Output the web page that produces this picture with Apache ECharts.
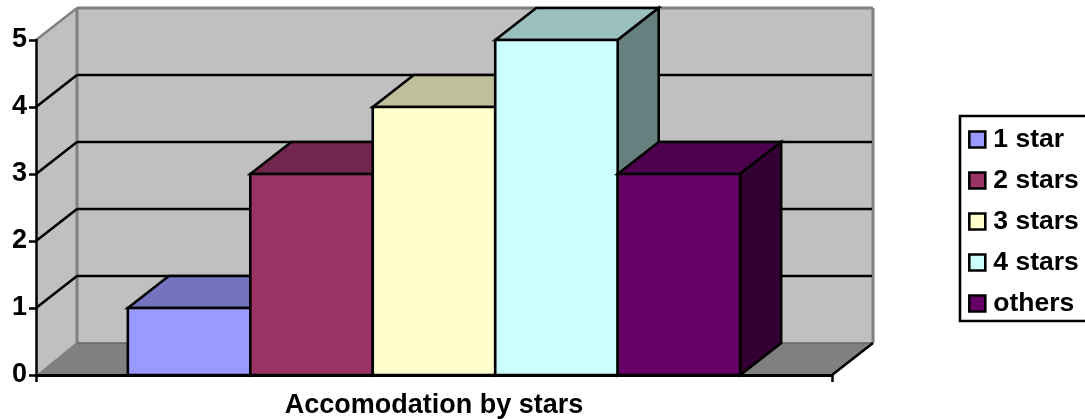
<!DOCTYPE html>
<html>
<head>
<meta charset="utf-8">
<style>html,body{margin:0;padding:0;background:#fff;overflow:hidden}#chart{width:1085px;height:419px}</style>
<script src="https://cdn.jsdelivr.net/npm/echarts@6/dist/echarts.min.js"></script>
</head>
<body>
<div id="chart"></div>
<script>
// Hotel counts per star rating, drawn as a single cluster of pseudo-3D columns.
const categories = ['Accomodation by stars'];
const seriesNames = ['1 star', '2 stars', '3 stars', '4 stars', 'others'];
const seriesValues = [1, 3, 4, 5, 3];
const yTicks = [0, 1, 2, 3, 4, 5];

const frontColors = ['#9999ff', '#993366', '#ffffcc', '#ccffff', '#660066'];
const topColors = ['#7373bf', '#73264d', '#bfbf99', '#99bfbf', '#4d004d'];
const sideColors = ['#4d4d80', '#4d1a33', '#808066', '#668080', '#330033'];

const DEPTH_X = 41;
const DEPTH_Y = -32;
const GAP_RATIO = 1.5;
const EDGE = 2.6;
const FONT = '"Liberation Sans", Arial, sans-serif';

function poly(points, fill, stroke, width) {
  return {
    type: 'polygon',
    shape: { points },
    style: { fill, stroke: stroke || 'none', lineWidth: width || 0, lineJoin: 'miter' }
  };
}
function line(a, b, stroke, width) {
  return {
    type: 'line',
    shape: { x1: a[0], y1: a[1], x2: b[0], y2: b[1] },
    style: { stroke, lineWidth: width, lineCap: 'butt' }
  };
}
const back = p => [p[0] + DEPTH_X, p[1] + DEPTH_Y];

// Walls, floor and the gridlines that wrap around the left wall and back wall.
function renderBackdrop(params, api) {
  const v = api.value(0);
  const band = api.size([1, 0])[0];
  const centre = api.coord([0, v]);
  const l = centre[0] - band / 2;
  const r = centre[0] + band / 2;
  const y = centre[1];
  const y0 = api.coord([0, yTicks[0]])[1];
  const yMax = api.coord([0, yTicks[yTicks.length - 1]])[1];
  const children = [];

  if (params.dataIndex === 0) {
    const fl = [l, y0], fr = [r, y0], tl = [l, yMax];
    const bl = back(fl), br = back(fr), btl = back(tl), btr = [br[0], btl[1]];
    children.push(
      poly([btl, btr, br, bl], '#c0c0c0'),
      poly([tl, btl, bl, fl], '#c0c0c0'),
      poly([fl, bl, br, fr], '#808080'),
      line(tl, btl, '#808080', 2.5),
      line(btl, btr, '#808080', 3),
      line(btl, bl, '#808080', 3),
      line(btr, br, '#808080', 3),
      line(bl, br, '#666666', 1.5),
      line([fl[0] + 2, fl[1]], [bl[0], bl[1]], '#808080', 2),
      line(fr, br, '#000000', EDGE)
    );
  } else if (v !== yTicks[yTicks.length - 1]) {
    const a = [l, y], b = back(a);
    children.push(line(a, b, '#000000', EDGE), line(b, [r + DEPTH_X - 1, b[1]], '#000000', EDGE));
  }
  return { type: 'group', children };
}

// One column per series: top face, side face, then the front face.
function columnRenderer(index) {
  return function (params, api) {
    const band = api.size([1, 0])[0];
    const w = band / (seriesNames.length + GAP_RATIO);
    const cx = api.coord([api.value(0), 0])[0];
    const x0 = cx - (seriesNames.length * w) / 2 + index * w;
    const x1 = x0 + w;
    const yBase = api.coord([0, 0])[1];
    const yTop = api.coord([0, api.value(1)])[1];
    const tl = [x0, yTop], tr = [x1, yTop], bl = [x0, yBase], br = [x1, yBase];
    return {
      type: 'group',
      children: [
        poly([tl, back(tl), back(tr), tr], topColors[index], '#000000', EDGE),
        poly([tr, back(tr), back(br), br], sideColors[index], '#000000', EDGE),
        poly([tl, tr, br, bl], frontColors[index], '#000000', EDGE)
      ]
    };
  };
}

const chart = echarts.init(document.getElementById('chart'), null, { renderer: 'canvas' });
chart.setOption({
  animation: false,
  backgroundColor: '#ffffff',
  grid: { left: 36, right: 253, top: 40, bottom: 44, containLabel: false },
  legend: {
    orient: 'vertical',
    left: 960,
    top: 116,
    data: seriesNames,
    icon: 'rect',
    itemWidth: 16,
    itemHeight: 16,
    itemGap: 14,
    padding: [10, 60, 4, 8],
    borderColor: '#000000',
    borderWidth: 2.6,
    backgroundColor: '#ffffff',
    selectedMode: false,
    itemStyle: { borderColor: '#000000', borderWidth: 2.6 },
    textStyle: { fontFamily: FONT, fontWeight: 'bold', fontSize: 26.5, color: '#000000', lineHeight: 26, padding: [0, 0, 0, 3] }
  },
  xAxis: {
    type: 'category',
    data: categories,
    z: 5,
    axisLine: { show: true, lineStyle: { color: '#000000', width: 3 } },
    axisTick: { show: true, length: 7, lineStyle: { color: '#000000', width: 2.5 } },
    axisLabel: { margin: 17, fontFamily: FONT, fontWeight: 'bold', fontSize: 27, color: '#000000' },
    splitLine: { show: false }
  },
  yAxis: {
    type: 'value',
    min: 0,
    max: 5,
    interval: 1,
    z: 5,
    axisLine: { show: true, lineStyle: { color: '#000000', width: 2.5 } },
    axisTick: { show: true, length: 7, lineStyle: { color: '#000000', width: 2.5 } },
    axisLabel: { margin: 9, fontFamily: FONT, fontWeight: 'bold', fontSize: 27, color: '#000000', padding: [2, 0, 0, 0] },
    splitLine: { show: false }
  },
  series: [
    {
      name: 'backdrop',
      type: 'custom',
      z: 1,
      silent: true,
      data: yTicks.map(t => [t]),
      encode: { y: 0 },
      renderItem: renderBackdrop
    }
  ].concat(seriesNames.map((name, i) => ({
    name,
    type: 'custom',
    z: 2 + i * 0.01,
    itemStyle: { color: frontColors[i] },
    data: [[0, seriesValues[i]]],
    encode: { x: 0, y: 1 },
    renderItem: columnRenderer(i)
  })))
});
</script>
</body>
</html>
